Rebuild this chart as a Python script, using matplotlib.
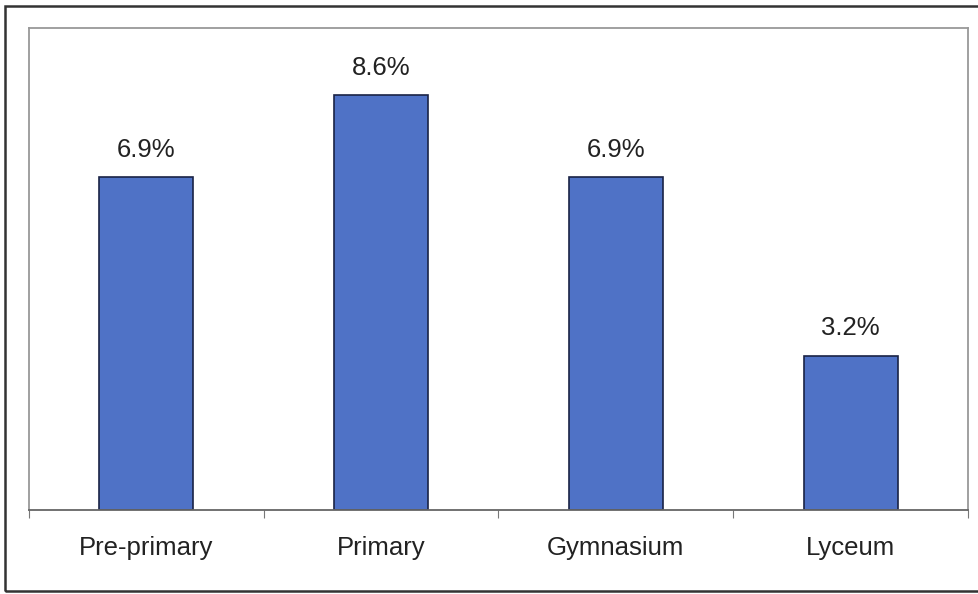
import matplotlib.pyplot as plt
from matplotlib.patches import Rectangle

categories = ['Pre-primary', 'Primary', 'Gymnasium', 'Lyceum']
values = [6.9, 8.6, 6.9, 3.2]
labels = ['6.9%', '8.6%', '6.9%', '3.2%']

W, H = 979, 594
fig = plt.figure(figsize=(W / 100, H / 100), dpi=100)
plt.rcParams['font.family'] = ['Liberation Sans', 'DejaVu Sans']

# outer frame round the whole chart
fig.patches.append(Rectangle((5 / W, 1 - 591 / H), 975 / W, 585 / H, transform=fig.transFigure,
                             fill=False, edgecolor='#333333', linewidth=1.8))

# plot area: left 29, right 968, top 28, bottom 510 (pixels)
ax = fig.add_axes([29 / W, 1 - 510 / H, 939 / W, 482 / H])
x = range(len(categories))
ax.bar(x, values, width=0.40, color='#4f72c6', edgecolor='#1a2345', linewidth=1.2)
for xi, v, lab in zip(x, values, labels):
    ax.text(xi, v + 0.32, lab, ha='center', va='bottom', fontsize=18.5, color='#222222')

ax.set_xlim(-0.5, 3.5)
ax.set_ylim(0, 10)
ax.set_yticks([])
ax.set_xticks([-0.5, 0.5, 1.5, 2.5, 3.5], minor=False)
ax.set_xticklabels([])
ax.set_xticks(list(x), minor=True)
ax.set_xticklabels(categories, minor=True, fontsize=18.5, color='#222222')
ax.tick_params(axis='x', which='minor', length=0, pad=19)
ax.tick_params(axis='x', which='major', length=6, color='#777777', direction='out')
for side in ['top', 'left', 'right']:
    ax.spines[side].set_color('#999999')
    ax.spines[side].set_linewidth(1.3)
ax.spines['bottom'].set_color('#666666')
ax.spines['bottom'].set_linewidth(1.3)

fig.savefig('out.png', dpi=100)
